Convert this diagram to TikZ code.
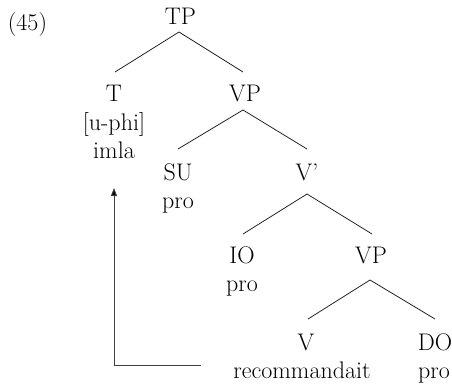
\documentclass[tikz,border=0pt]{standalone}
\usetikzlibrary{arrows.meta}
\begin{document}
\begin{tikzpicture}[x=1pt,y=-1pt,
  lab/.style={anchor=base,inner sep=0pt,font=\fontsize{24}{28}\selectfont,text=black},
  branch/.style={draw=black!85,line width=0.8pt},
  movearrow/.style={draw=black!75,line width=0.8pt,-{Triangle[length=8pt,width=6pt,fill=black]}}]
\useasboundingbox (0,0) rectangle (452,386);
% labels
\node[lab] (ex) at (27.5,30) {(45)};
\node[lab] (TP) at (180.5,24) {TP};
\node[lab] (T) at (114,101.7) {T};
\node[lab] (Tf) at (114,130) {[u-phi]};
\node[lab] (Tw) at (114,158) {imla};
\node[lab] (VP) at (245,101.7) {VP};
\node[lab] (SU) at (178,180) {SU};
\node[lab] (SUp) at (178,208) {pro};
\node[lab] (Vb) at (307,180) {V’};
\node[lab] (IO) at (242,263) {IO};
\node[lab] (IOp) at (242,291) {pro};
\node[lab] (VPb) at (371,263) {VP};
\node[lab] (V) at (306,350) {V};
\node[lab] (rec) at (302,378) {recommandait};
\node[lab] (DO) at (435,350) {DO};
\node[lab] (DOp) at (434,378) {pro};
% branch points
\coordinate (TPd) at ([xshift=-1.5pt,yshift=-8pt]TP.base);
\coordinate (Tu) at ([xshift=1pt,yshift=29.7pt]T.base);
\coordinate (VPu) at ([xshift=-2pt,yshift=29.7pt]VP.base);
\coordinate (VPd) at ([xshift=-2pt,yshift=-8.3pt]VP.base);
\coordinate (SUu) at ([yshift=31pt]SU.base);
\coordinate (Vbu) at ([yshift=31pt]Vb.base);
\coordinate (Vbd) at ([yshift=-14pt]Vb.base);
\coordinate (IOu) at ([xshift=1pt,yshift=29pt]IO.base);
\coordinate (VPbu) at ([xshift=1pt,yshift=29pt]VPb.base);
\coordinate (VPbd) at ([xshift=-1pt,yshift=-17pt]VPb.base);
\coordinate (Vu) at ([xshift=2pt,yshift=31pt]V.base);
\coordinate (DOu) at ([yshift=31pt]DO.base);
% branches
\draw[branch] (Tu) -- (TPd) -- (VPu);
\draw[branch] (SUu) -- (VPd) -- (Vbu);
\draw[branch] (IOu) -- (Vbd) -- (VPbu);
\draw[branch] (Vu) -- (VPbd) -- (DOu);
% movement arrow
\coordinate (arS) at ([xshift=-32pt,yshift=13pt]rec.base west);
\coordinate (arE) at ([yshift=-30pt]Tw.base);
\draw[movearrow] (arS) -| (arE);
\end{tikzpicture}
\end{document}
